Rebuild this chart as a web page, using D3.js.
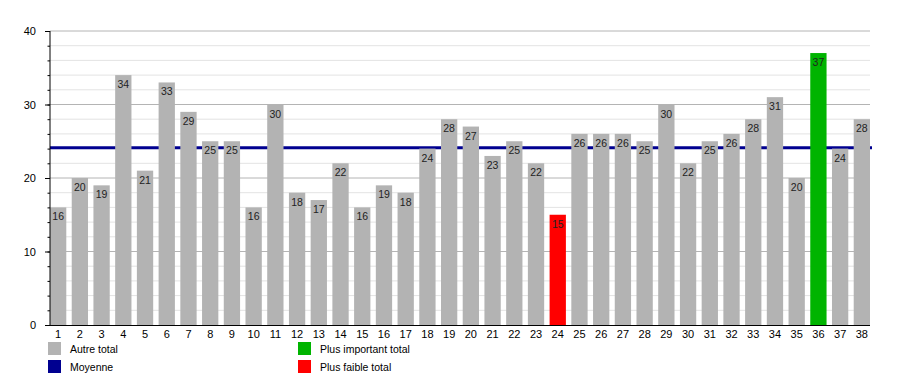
<!DOCTYPE html>
<html><head><meta charset="utf-8">
<script src="https://cdn.jsdelivr.net/npm/d3@7"></script>
<style>body{margin:0;background:#fff}svg{display:block;font-family:"Liberation Sans",Arial,sans-serif}</style>
</head><body><svg id="c" width="900" height="375"></svg>
<script>
const categories = d3.range(1, 39).map(String);
const values = [16,20,19,34,21,33,29,25,25,16,30,18,17,22,16,19,18,24,28,27,23,25,22,15,26,26,26,25,30,22,25,26,28,31,20,37,24,28];
const yMajorTicks = [0,10,20,30,40];
const legendLabels = ["Autre total","Moyenne","Plus important total","Plus faible total"];
const colors = {other:"#b3b3b3", mean:"#000090", max:"#00b400", min:"#ff0000"};

const svg = d3.select("#c");
const L = 50, R = 870, T = 31, B = 325;
const x = d3.scaleBand().domain(categories).range([L, R]).paddingInner(0.25).paddingOuter(0);
const y = d3.scaleLinear().domain([0, 40]).range([B, T]);
const mean = d3.mean(values), maxV = d3.max(values), minV = d3.min(values);

// grid
const minor = d3.range(0, 41, 2);
svg.append("g").selectAll("line").data(minor.filter(v => v % 10 !== 0)).join("line")
  .attr("x1", L).attr("x2", R).attr("y1", d => y(d)).attr("y2", d => y(d))
  .attr("stroke", "#e3e3e3").attr("stroke-width", 1);
svg.append("g").selectAll("line").data(yMajorTicks.filter(v => v > 0)).join("line")
  .attr("x1", L).attr("x2", R).attr("y1", d => y(d)).attr("y2", d => y(d))
  .attr("stroke", "#b4b4b4").attr("stroke-width", 1);

// mean line (behind bars)
svg.append("line").attr("x1", L).attr("x2", R + 2).attr("y1", y(mean)).attr("y2", y(mean))
  .attr("stroke", colors.mean).attr("stroke-width", 3);

// bars
const colorOf = v => v === maxV ? colors.max : v === minV ? colors.min : colors.other;
svg.append("g").selectAll("rect").data(values).join("rect")
  .attr("x", (d, i) => x(categories[i])).attr("width", x.bandwidth())
  .attr("y", d => y(d)).attr("height", d => B - y(d))
  .attr("fill", colorOf);

// value labels
svg.append("g").selectAll("text").data(values).join("text")
  .attr("x", (d, i) => x(categories[i]) + x.bandwidth() / 2).attr("y", d => y(d) + 13)
  .attr("text-anchor", "middle").attr("font-size", 10.5).attr("fill", "#222").text(d => d);

// axes
const ya = svg.append("g").attr("transform", `translate(${L},0)`)
  .call(d3.axisLeft(y).tickValues(minor).tickSize(2.5).tickFormat(""));
ya.select(".domain").remove();
const yb = svg.append("g").attr("transform", `translate(${L},0)`)
  .call(d3.axisLeft(y).tickValues(yMajorTicks).tickSize(5).tickPadding(9));
yb.select(".domain").remove();
yb.selectAll("text").attr("font-size", 11).attr("fill", "#000").attr("font-family", "Liberation Sans, Arial, sans-serif");
svg.append("line").attr("x1", L).attr("x2", L).attr("y1", T).attr("y2", B).attr("stroke", "#000");
const xa = svg.append("g").attr("transform", `translate(0,${B})`)
  .call(d3.axisBottom(x).tickSize(0).tickPadding(5));
xa.select(".domain").attr("d", `M${L},0.5H${R}`);
xa.selectAll("text").attr("font-size", 11).attr("fill", "#000").attr("font-family", "Liberation Sans, Arial, sans-serif");

// legend
const leg = [
  {label: legendLabels[0], color: colors.other, x: 48, y: 342},
  {label: legendLabels[1], color: colors.mean, x: 48, y: 360},
  {label: legendLabels[2], color: colors.max, x: 298, y: 342},
  {label: legendLabels[3], color: colors.min, x: 298, y: 360}
];
const lg = svg.append("g").selectAll("g").data(leg).join("g").attr("transform", d => `translate(${d.x},${d.y})`);
lg.append("rect").attr("width", 13).attr("height", 13).attr("fill", d => d.color);
lg.append("text").attr("x", 22).attr("y", 11).attr("font-size", 10.5).attr("fill", "#000").text(d => d.label);
</script></body></html>
